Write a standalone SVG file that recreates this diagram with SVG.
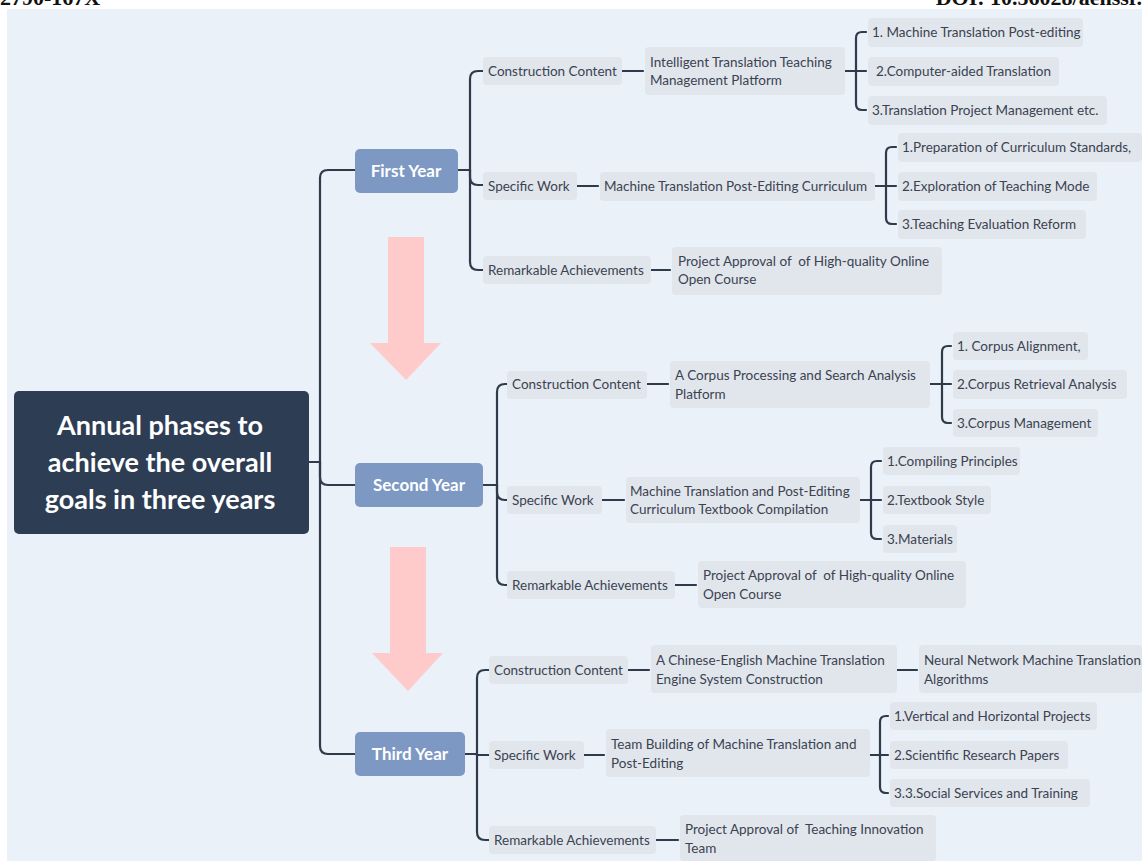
<svg xmlns="http://www.w3.org/2000/svg" width="1142" height="861" viewBox="0 0 1142 861">
<defs>
<style>
.bg{fill:#EBF1F9}
.hdr{font-family:"Liberation Serif",serif;font-weight:bold;font-size:22px;fill:#111}
.root{fill:#2D3D54}
.rootT{font-family:Lato,"Noto Sans",sans-serif;font-weight:bold;font-size:27px;fill:#fff;text-anchor:middle}
.yr{fill:#7C98C3}
.yrT{font-family:Lato,"Noto Sans",sans-serif;font-weight:bold;font-size:17px;fill:#fff;text-anchor:middle}
.nd{fill:#E1E6ED}
.t{font-family:Lato,"Noto Sans",sans-serif;font-size:13.5px;fill:#3B4250}
.c{fill:none;stroke:#2F3A4A;stroke-width:2.2;stroke-linecap:round}
.ar{fill:#FFCACA}
</style>
</defs>
<rect x="0" y="0" width="1142" height="861" fill="#ffffff"/>
<rect class="bg" x="7" y="9" width="1135" height="852"/>
<text class="hdr" x="0" y="5">2790-167X</text>
<text class="hdr" x="1142" y="5" text-anchor="end">DOI: 10.56028/aehssr.</text>

<g id="arrows">
<path class="ar" d="M388,237 H424 V343 H441 L406,380 L370,343 H388 Z"/>
<path class="ar" d="M390,547 H426 V653 H443 L408,691 L372,653 H390 Z"/>
</g>

<g id="connectors">
<path class="c" d="M309,462 H320 V178 Q320,170 328,170 H355"/>
<path class="c" d="M320,462 V477 Q320,485 328,485 H355"/>
<path class="c" d="M320,462 V746 Q320,754 328,754 H355"/>
<path class="c" d="M458,170 H470 V79 Q470,71 478,71 H483"/>
<path class="c" d="M470,170 V177 Q470,185 478,185 H483"/>
<path class="c" d="M470,170 V262 Q470,270 478,270 H483"/>
<path class="c" d="M622,71 H643"/>
<path class="c" d="M577,186 H598"/>
<path class="c" d="M651,270 H670"/>
<path class="c" d="M845,71 H866"/>
<path class="c" d="M866,32 H862 Q856,32 856,38 V104 Q856,110 862,110 H866"/>
<path class="c" d="M875,186 H896"/>
<path class="c" d="M896,147 H892 Q886,147 886,153 V218 Q886,224 892,224 H896"/>
<path class="c" d="M483,485 H497 V392 Q497,384 505,384 H507"/>
<path class="c" d="M497,485 V492 Q497,500 505,500 H507"/>
<path class="c" d="M497,485 V577 Q497,585 505,585 H507"/>
<path class="c" d="M647,384 H668"/>
<path class="c" d="M602,500 H624"/>
<path class="c" d="M675,585 H696"/>
<path class="c" d="M930,384 H951"/>
<path class="c" d="M951,346 H948 Q942,346 942,352 V417 Q942,423 948,423 H951"/>
<path class="c" d="M860,500 H881"/>
<path class="c" d="M881,461 H877 Q871,461 871,467 V533 Q871,539 877,539 H881"/>
<path class="c" d="M465,754 H477 V678 Q477,670 485,670 H489"/>
<path class="c" d="M477,754 V755 H489"/>
<path class="c" d="M477,754 V832 Q477,840 485,840 H489"/>
<path class="c" d="M628,670 H649"/>
<path class="c" d="M897,670 H917"/>
<path class="c" d="M584,755 H604"/>
<path class="c" d="M656,840 H678"/>
<path class="c" d="M870,755 H888"/>
<path class="c" d="M888,716 H886 Q880,716 880,722 V787 Q880,793 886,793 H888"/>
</g>

<g id="root">
<rect class="root" x="14" y="391" width="295" height="143" rx="5"/>
<text class="rootT" x="160" y="435">Annual phases to</text>
<text class="rootT" x="160" y="472">achieve the overall</text>
<text class="rootT" x="160" y="509">goals in three years</text>
</g>

<g id="first-year"><rect class="yr" x="355" y="149" width="103" height="44" rx="5"/><text class="yrT" x="406" y="177">First Year</text></g>
<g id="second-year"><rect class="yr" x="355" y="463" width="128" height="44" rx="5"/><text class="yrT" x="419" y="491">Second Year</text></g>
<g id="third-year"><rect class="yr" x="355" y="732" width="110" height="44" rx="5"/><text class="yrT" x="410" y="760">Third Year</text></g>

<g id="fy-cc"><rect class="nd" x="483" y="57" width="139" height="28" rx="4"/><text class="t" x="488" y="75.5">Construction Content</text></g>
<g id="fy-sw"><rect class="nd" x="483" y="172" width="94" height="28" rx="4"/><text class="t" x="488" y="190.5">Specific Work</text></g>
<g id="fy-ra"><rect class="nd" x="483" y="256" width="168" height="28" rx="4"/><text class="t" x="488" y="274.5">Remarkable Achievements</text></g>
<g id="fy-platform"><rect class="nd" x="645" y="47" width="200" height="48" rx="4"/><text class="t" x="650" y="66.5">Intelligent Translation Teaching</text><text class="t" x="650" y="85">Management Platform</text></g>
<g id="fy-p1"><rect class="nd" x="868" y="18" width="215" height="29" rx="4"/><text class="t" x="872" y="37">1. Machine Translation Post-editing</text></g>
<g id="fy-p2"><rect class="nd" x="868" y="57" width="191" height="29" rx="4"/><text class="t" x="876" y="76">2.Computer-aided Translation</text></g>
<g id="fy-p3"><rect class="nd" x="868" y="96" width="239" height="29" rx="4"/><text class="t" x="872" y="115">3.Translation Project Management etc.</text></g>
<g id="fy-curr"><rect class="nd" x="600" y="172" width="275" height="29" rx="4"/><text class="t" x="604" y="190.5">Machine Translation Post-Editing Curriculum</text></g>
<g id="fy-c1"><rect class="nd" x="898" y="133" width="244" height="29" rx="4"/><text class="t" x="902" y="152">1.Preparation of Curriculum Standards,</text></g>
<g id="fy-c2"><rect class="nd" x="898" y="172" width="199" height="29" rx="4"/><text class="t" x="902" y="190.5">2.Exploration of Teaching Mode</text></g>
<g id="fy-c3"><rect class="nd" x="898" y="210" width="188" height="29" rx="4"/><text class="t" x="902" y="229">3.Teaching Evaluation Reform</text></g>
<g id="fy-ach"><rect class="nd" x="672" y="247" width="270" height="48" rx="4"/><text class="t" x="678" y="265.5">Project Approval of&#160; of High-quality Online</text><text class="t" x="678" y="284">Open Course</text></g>

<g id="sy-cc"><rect class="nd" x="507" y="371" width="140" height="28" rx="4"/><text class="t" x="512" y="389">Construction Content</text></g>
<g id="sy-sw"><rect class="nd" x="507" y="486" width="95" height="28" rx="4"/><text class="t" x="512" y="504.5">Specific Work</text></g>
<g id="sy-ra"><rect class="nd" x="507" y="571" width="168" height="28" rx="4"/><text class="t" x="512" y="589.5">Remarkable Achievements</text></g>
<g id="sy-platform"><rect class="nd" x="670" y="361" width="260" height="47" rx="4"/><text class="t" x="675" y="380">A Corpus Processing and Search Analysis</text><text class="t" x="675" y="398.5">Platform</text></g>
<g id="sy-p1"><rect class="nd" x="953" y="332" width="135" height="28" rx="4"/><text class="t" x="957" y="350.5">1. Corpus Alignment,</text></g>
<g id="sy-p2"><rect class="nd" x="953" y="370" width="174" height="29" rx="4"/><text class="t" x="957" y="389">2.Corpus Retrieval Analysis</text></g>
<g id="sy-p3"><rect class="nd" x="953" y="409" width="145" height="28" rx="4"/><text class="t" x="957" y="427.5">3.Corpus Management</text></g>
<g id="sy-text"><rect class="nd" x="626" y="477" width="234" height="46" rx="4"/><text class="t" x="630" y="495.5">Machine Translation and Post-Editing</text><text class="t" x="630" y="514">Curriculum Textbook Compilation</text></g>
<g id="sy-c1"><rect class="nd" x="883" y="447" width="137" height="28" rx="4"/><text class="t" x="887" y="465.5">1.Compiling Principles</text></g>
<g id="sy-c2"><rect class="nd" x="883" y="486" width="108" height="28" rx="4"/><text class="t" x="887" y="504.5">2.Textbook Style</text></g>
<g id="sy-c3"><rect class="nd" x="883" y="525" width="74" height="28" rx="4"/><text class="t" x="887" y="543.5">3.Materials</text></g>
<g id="sy-ach"><rect class="nd" x="698" y="561" width="268" height="47" rx="4"/><text class="t" x="703" y="580">Project Approval of&#160; of High-quality Online</text><text class="t" x="703" y="598.5">Open Course</text></g>

<g id="ty-cc"><rect class="nd" x="489" y="656" width="139" height="28" rx="4"/><text class="t" x="494" y="674.5">Construction Content</text></g>
<g id="ty-sw"><rect class="nd" x="489" y="741" width="95" height="28" rx="4"/><text class="t" x="494" y="759.5">Specific Work</text></g>
<g id="ty-ra"><rect class="nd" x="489" y="826" width="167" height="28" rx="4"/><text class="t" x="494" y="844.5">Remarkable Achievements</text></g>
<g id="ty-engine"><rect class="nd" x="651" y="645" width="246" height="48" rx="4"/><text class="t" x="656" y="665">A Chinese-English Machine Translation</text><text class="t" x="656" y="683.5">Engine System Construction</text></g>
<g id="ty-neural"><rect class="nd" x="919" y="645" width="223" height="48" rx="4"/><text class="t" x="924" y="665">Neural Network Machine Translation</text><text class="t" x="924" y="683.5">Algorithms</text></g>
<g id="ty-team"><rect class="nd" x="606" y="729" width="264" height="48" rx="4"/><text class="t" x="611" y="749">Team Building of Machine Translation and</text><text class="t" x="611" y="767.5">Post-Editing</text></g>
<g id="ty-c1"><rect class="nd" x="890" y="702" width="207" height="28" rx="4"/><text class="t" x="894" y="720.5">1.Vertical and Horizontal Projects</text></g>
<g id="ty-c2"><rect class="nd" x="890" y="741" width="178" height="28" rx="4"/><text class="t" x="894" y="759.5">2.Scientific Research Papers</text></g>
<g id="ty-c3"><rect class="nd" x="890" y="779" width="200" height="28" rx="4"/><text class="t" x="894" y="797.5">3.3.Social Services and Training</text></g>
<g id="ty-ach"><rect class="nd" x="680" y="815" width="256" height="46" rx="4"/><text class="t" x="685" y="834">Project Approval of&#160; Teaching Innovation</text><text class="t" x="685" y="852.5">Team</text></g>
</svg>
